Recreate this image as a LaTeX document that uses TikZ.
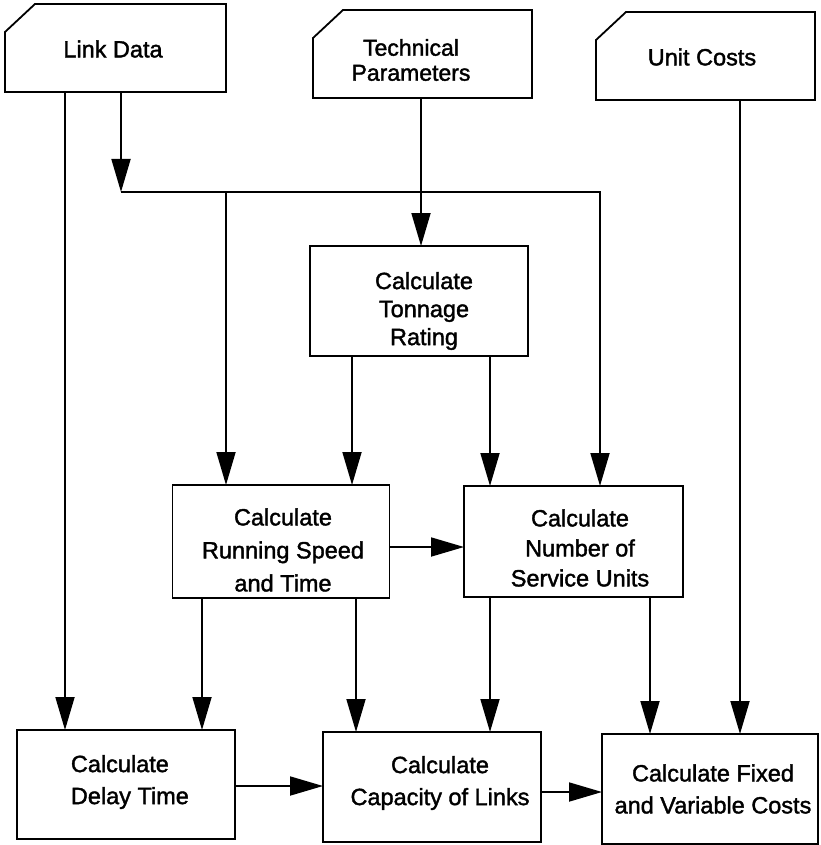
\documentclass[tikz,border=0pt]{standalone}
\usepackage{fontspec}
\setmainfont{Liberation Sans}
\newfontfamily\heavyfont{Liberation Sans}[FakeBold=1.6]
\usetikzlibrary{arrows.meta}
\begin{document}
\begin{tikzpicture}[x=1pt,y=-1pt,
  line width=1.8pt,
  box/.style={draw,rectangle,inner sep=0pt,outer sep=0pt},
  card/.style={rectangle,inner sep=0pt,outer sep=0pt},
  txt/.style={inner sep=0pt,align=center,font=\heavyfont\fontsize{23.5}{31}\selectfont},
  arr/.style={-{Triangle[length=33pt,width=19pt]}}
]
\useasboundingbox (0,0) rectangle (820,845);
% input cards
\node[card,minimum width=221pt,minimum height=88pt] (link) at (115.5,48) {};
\node[card,minimum width=219pt,minimum height=88pt] (tech) at (422.5,54) {};
\node[card,minimum width=219pt,minimum height=88pt] (unit) at (705.5,56) {};
\foreach \n in {link,tech,unit}{
  \draw ([yshift=-28pt]\n.north west) -- ([xshift=30pt]\n.north west) -- (\n.north east) -- (\n.south east) -- (\n.south west) -- cycle;
}
\node[txt] (linkT) at (113,49) {Link Data};
\node[txt,font=\heavyfont\fontsize{23}{25}\selectfont] (techT) at (411,60) {Technical\\Parameters};
\node[txt] (unitT) at (702,57) {Unit Costs};
% process boxes
\node[box,minimum width=218pt,minimum height=110pt] (ton) at (419,301) {};
\node[box,minimum width=217pt,minimum height=113pt] (run) at (281,541.5) {};
\node[box,minimum width=219pt,minimum height=111pt] (serv) at (573.5,541.5) {};
\node[box,minimum width=218pt,minimum height=109pt] (delay) at (126,784.5) {};
\node[box,minimum width=218pt,minimum height=110pt] (cap) at (432,787) {};
\node[box,minimum width=216pt,minimum height=110pt] (fixed) at (710,789) {};
\node[txt,font=\heavyfont\fontsize{23.5}{28}\selectfont] (tonT) at (424,311) {Calculate\\Tonnage\\Rating};
\node[txt,font=\heavyfont\fontsize{23.5}{33}\selectfont] (runT) at (283,550) {Calculate\\Running Speed\\and Time};
\node[txt,font=\heavyfont\fontsize{23.5}{30}\selectfont] (servT) at (580,548) {Calculate\\Number of\\Service Units};
\node[txt,align=left,anchor=west,font=\heavyfont\fontsize{23.5}{32}\selectfont] (delayT) at (70,782) {Calculate\\Delay Time};
\node[txt,font=\heavyfont\fontsize{23.5}{32}\selectfont] (capT) at (440,783) {Calculate\\Capacity of Links};
\node[txt,font=\heavyfont\fontsize{23.5}{32}\selectfont] (fixedT) at (713,789) {Calculate Fixed\\and Variable Costs};
% junctions
\coordinate (j) at (121,192);
\coordinate (j2) at (226,192);
\coordinate (j3) at (600,192);
% connectors
\draw[arr] ([xshift=-50.5pt]link.south) -- ([xshift=-61pt]delay.north);
\draw[arr] ([xshift=5.5pt]link.south) -- (j);
\draw[arr] (j) -- (j3) -- ([xshift=26.5pt]serv.north);
\draw[arr] (j2) -- ([xshift=-55pt]run.north);
\draw[arr] ([xshift=-1.5pt]tech.south) -- ([xshift=2pt]ton.north);
\draw[arr] ([xshift=-67pt]ton.south) -- ([xshift=71pt]run.north);
\draw[arr] ([xshift=71pt]ton.south) -- ([xshift=-83.5pt]serv.north);
\draw[arr] ([xshift=34.5pt]unit.south) -- ([xshift=30pt]fixed.north);
\draw[arr] ([yshift=-5.5pt]run.east) -- ([yshift=-5.5pt]serv.west);
\draw[arr] ([xshift=-79pt]run.south) -- ([xshift=76pt]delay.north);
\draw[arr] ([xshift=75pt]run.south) -- ([xshift=-76pt]cap.north);
\draw[arr] ([xshift=-83.5pt]serv.south) -- ([xshift=58pt]cap.north);
\draw[arr] ([xshift=76.5pt]serv.south) -- ([xshift=-60pt]fixed.north);
\draw[arr] ([yshift=-1.5pt]delay.east) -- ([yshift=1pt]cap.west);
\draw[arr] ([yshift=-5pt]cap.east) -- ([yshift=-3pt]fixed.west);
\end{tikzpicture}
\end{document}
